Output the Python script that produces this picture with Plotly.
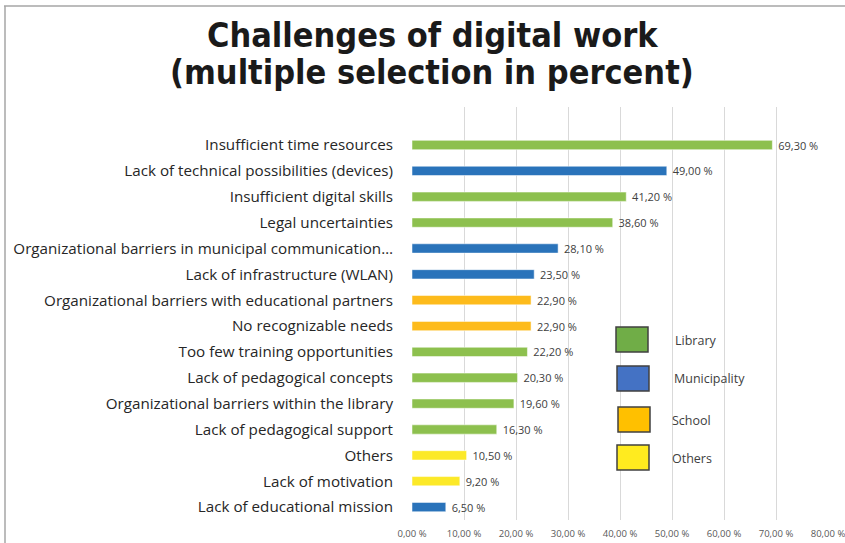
import plotly.graph_objects as go

categories = [
    "Insufficient time resources",
    "Lack of technical possibilities (devices)",
    "Insufficient digital skills",
    "Legal uncertainties",
    "Organizational barriers in municipal communication…",
    "Lack of infrastructure (WLAN)",
    "Organizational barriers with educational partners",
    "No recognizable needs",
    "Too few training opportunities",
    "Lack of pedagogical concepts",
    "Organizational barriers within the library",
    "Lack of pedagogical support",
    "Others",
    "Lack of motivation",
    "Lack of educational mission",
]
values = [69.3, 49.0, 41.2, 38.6, 28.1, 23.5, 22.9, 22.9, 22.2, 20.3, 19.6, 16.3, 10.5, 9.2, 6.5]
groups = ["Library", "Municipality", "Library", "Library", "Municipality", "Municipality",
          "School", "School", "Library", "Library", "Library", "Library",
          "Others", "Others", "Municipality"]
legend_groups = ["Library", "Municipality", "School", "Others"]
x_ticks = [0, 10, 20, 30, 40, 50, 60, 70, 80]
title_lines = ["Challenges of digital work", "(multiple selection in percent)"]

bar_colors = {"Library": "#8DC04E", "Municipality": "#2A73BA", "School": "#FDBB1C", "Others": "#FCE928"}
legend_colors = {"Library": "#70AD47", "Municipality": "#4472C4", "School": "#FFC000", "Others": "#FFEB1F"}

def fmt(v):
    return f"{v:.2f}".replace(".", ",") + " %"

W, H = 845, 543
L, R, T, B = 412, 828, 107, 520

fig = go.Figure()
fig.add_trace(go.Bar(
    y=categories, x=values, orientation="h",
    marker=dict(color=[bar_colors[g] for g in groups], line=dict(color="rgba(255,255,255,0.5)", width=1)),
    width=0.36,
    text=[" " + fmt(v) for v in values], textposition="outside", constraintext="none",
    textfont=dict(family="Open Sans", size=11, color="#404040"),
    cliponaxis=False, showlegend=False, hoverinfo="skip",
))

def px(xp):
    return (xp - L) / (R - L)

def py(yp):
    return (B - yp) / (B - T)

shapes = []
annotations = []
leg_pos = [(616, 327, 673, 340), (617, 366, 672, 378), (618, 407, 670, 420), (617, 445, 670, 458)]
for g, (bx, by, tx, ty) in zip(legend_groups, leg_pos):
    shapes.append(dict(type="rect", xref="paper", yref="paper",
                       x0=px(bx), x1=px(bx + 32), y0=py(by + 25), y1=py(by),
                       fillcolor=legend_colors[g], line=dict(color="#404040", width=1.5)))
    annotations.append(dict(xref="paper", yref="paper", x=px(tx), y=py(ty), text=g,
                            showarrow=False, xanchor="left", yanchor="middle",
                            font=dict(family="Open Sans", size=12.5, color="#404040")))

for line, ty in zip(title_lines, [35, 72]):
    annotations.append(dict(xref="paper", yref="paper", x=px(432), y=py(ty), text="<b>" + line + "</b>",
                            showarrow=False, xanchor="center", yanchor="middle",
                            font=dict(family="DejaVu Sans Condensed, DejaVu Sans", size=34, color="#1a1a1a")))

# outer frame lines
shapes.append(dict(type="line", xref="paper", yref="paper", x0=px(4), x1=px(845), y0=py(6), y1=py(6),
                   line=dict(color="#A6A6A6", width=1.5)))
shapes.append(dict(type="line", xref="paper", yref="paper", x0=px(5), x1=px(5), y0=py(6), y1=py(543),
                   line=dict(color="#A6A6A6", width=1.5)))

fig.update_layout(
    width=W, height=H,
    margin=dict(l=L, r=W - R, t=T, b=H - B, autoexpand=False),
    paper_bgcolor="white", plot_bgcolor="white",
    xaxis=dict(range=[0, 80], tickvals=x_ticks, ticktext=[fmt(t) for t in x_ticks],
               showgrid=True, gridcolor="#D9D9D9", gridwidth=1, zeroline=False, automargin=False,
               showline=False, ticks="", ticklabelstandoff=6, ticklabeloverflow="allow",
               tickfont=dict(family="Open Sans", size=9.5, color="#595959")),
    yaxis=dict(type="category", range=[len(categories) - 0.5, -1.47], showgrid=False,
               ticks="", showline=False, ticklabelstandoff=18, automargin=False,
               tickfont=dict(family="Open Sans", size=15.2, color="#262626")),
    shapes=shapes, annotations=annotations, bargap=0.6,
)

fig.write_html("out.html")
